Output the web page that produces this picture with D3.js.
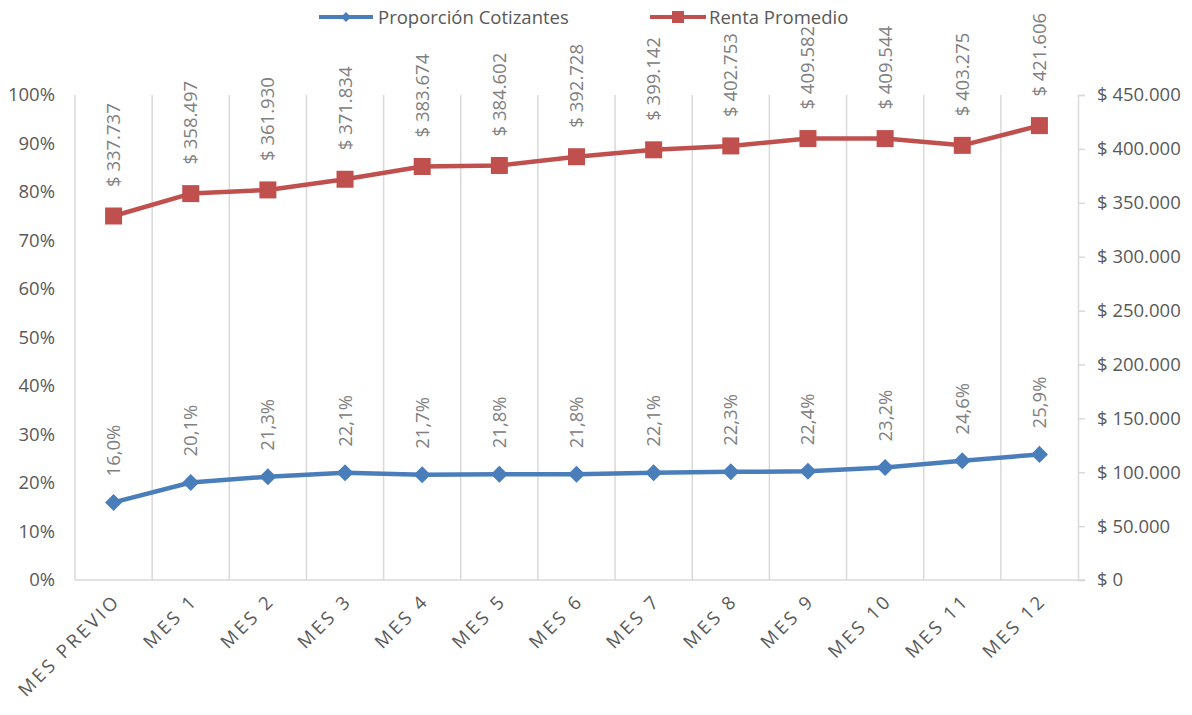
<!DOCTYPE html>
<meta charset="utf-8">
<title>Proporción Cotizantes y Renta Promedio</title>
<style>
    body {
        margin: 0;
        background: #fff;
        font-family: "Open Sans", Arial, sans-serif;
    }
</style>

<body>
    <script src="https://d3js.org/d3.v7.min.js"></script>
    <script>
        /* Data */
        var meses = ["MES PREVIO", "MES 1", "MES 2", "MES 3", "MES 4", "MES 5", "MES 6",
            "MES 7", "MES 8", "MES 9", "MES 10", "MES 11", "MES 12"];
        var proporcion = [0.160, 0.201, 0.213, 0.221, 0.217, 0.218, 0.218, 0.221, 0.223, 0.224, 0.232, 0.246, 0.259];
        var renta = [337737, 358497, 361930, 371834, 383674, 384602, 392728, 399142, 402753, 409582, 409544, 403275, 421606];
        var leftTicks = [0, 0.1, 0.2, 0.3, 0.4, 0.5, 0.6, 0.7, 0.8, 0.9, 1];
        var rightTicks = [0, 50000, 100000, 150000, 200000, 250000, 300000, 350000, 400000, 450000];

        /* Layout */
        var width = 1192,
            height = 715;
        var plotLeft = 75, plotRight = 1078, plotTop = 95, plotBottom = 580;
        var blue = "#4a7ebb", red = "#c0504d";
        var grid = "#d9d9d9", textColor = "#595959", labelColor = "#808080";

        var svg = d3.select("body").append("svg")
            .attr("width", width)
            .attr("height", height);

        var x = d3.scaleBand().domain(meses).range([plotLeft, plotRight]);
        var yL = d3.scaleLinear().domain([0, 1]).range([plotBottom, plotTop]);
        var yR = d3.scaleLinear().domain([0, 450000]).range([plotBottom, plotTop]);

        var pct = function (v) { return (v * 100).toFixed(1).replace(".", ",") + "%"; };
        var money = function (v) { return "$ " + d3.format(",")(v).replace(/,/g, "."); };

        // vertical gridlines at category boundaries
        var bounds = meses.map(function (m) { return x(m); });
        svg.append("g").selectAll("line")
            .data(bounds)
            .enter().append("line")
            .attr("x1", function (d) { return d; })
            .attr("x2", function (d) { return d; })
            .attr("y1", plotTop)
            .attr("y2", plotBottom)
            .attr("stroke", grid)
            .attr("stroke-width", 1.5);

        // bottom axis line
        svg.append("line")
            .attr("x1", plotLeft).attr("x2", plotRight + 7)
            .attr("y1", plotBottom).attr("y2", plotBottom)
            .attr("stroke", grid).attr("stroke-width", 1.5);

        // left axis (labels only)
        var leftAxis = d3.axisLeft(yL).tickValues(leftTicks).tickSize(0).tickPadding(20)
            .tickFormat(function (d) { return Math.round(d * 100) + "%"; });
        var gL = svg.append("g").attr("transform", "translate(" + plotLeft + ",0)").call(leftAxis);
        gL.select(".domain").remove();

        // right axis
        var rightAxis = d3.axisRight(yR).tickValues(rightTicks).tickSize(7).tickPadding(12)
            .tickFormat(function (d) { return d === 0 ? "$ 0" : money(d); });
        var gR = svg.append("g").attr("transform", "translate(" + plotRight + ",0)").call(rightAxis);
        gR.select(".domain").attr("stroke", grid).attr("stroke-width", 1.5);
        gR.selectAll(".tick line").attr("stroke", grid).attr("stroke-width", 1.5);

        svg.selectAll(".tick text")
            .attr("fill", textColor)
            .style("font-size", "18.5px")
            .style("font-family", "'Open Sans', Arial, sans-serif");

        // category labels
        svg.append("g").selectAll("text")
            .data(meses)
            .enter().append("text")
            .attr("transform", function (d) {
                return "translate(" + (x(d) + x.bandwidth() / 2 + 8) + "," + (plotBottom + 22) + ") rotate(-45)";
            })
            .attr("text-anchor", "end")
            .attr("fill", textColor)
            .style("font-size", "18.5px")
            .style("letter-spacing", "3px")
            .text(function (d) { return d; });

        var cx = function (i) { return x(meses[i]) + x.bandwidth() / 2; };

        // Proporción line
        svg.append("path")
            .datum(proporcion)
            .attr("fill", "none")
            .attr("stroke", blue)
            .attr("stroke-width", 4.5)
            .attr("stroke-linejoin", "round")
            .attr("d", d3.line().x(function (d, i) { return cx(i); }).y(function (d) { return yL(d); }));

        svg.append("g").selectAll("path")
            .data(proporcion)
            .enter().append("path")
            .attr("d", d3.symbol().type(d3.symbolSquare).size(145))
            .attr("transform", function (d, i) { return "translate(" + cx(i) + "," + yL(d) + ") rotate(45)"; })
            .attr("fill", blue);

        // Renta line
        svg.append("path")
            .datum(renta)
            .attr("fill", "none")
            .attr("stroke", red)
            .attr("stroke-width", 4.5)
            .attr("stroke-linejoin", "round")
            .attr("d", d3.line().x(function (d, i) { return cx(i); }).y(function (d) { return yR(d); }));

        svg.append("g").selectAll("rect")
            .data(renta)
            .enter().append("rect")
            .attr("x", function (d, i) { return cx(i) - 8.5; })
            .attr("y", function (d) { return yR(d) - 8.5; })
            .attr("width", 17)
            .attr("height", 17)
            .attr("fill", red);

        // data labels
        svg.append("g").selectAll("text")
            .data(proporcion)
            .enter().append("text")
            .attr("transform", function (d, i) {
                return "translate(" + (cx(i) + 6.5) + "," + (yL(d) - 26) + ") rotate(-90)";
            })
            .attr("fill", labelColor)
            .style("font-size", "18.5px")
            .text(pct);

        svg.append("g").selectAll("text")
            .data(renta)
            .enter().append("text")
            .attr("transform", function (d, i) {
                return "translate(" + (cx(i) + 6.5) + "," + (yR(d) - 29) + ") rotate(-90)";
            })
            .attr("fill", labelColor)
            .style("font-size", "18.5px")
            .text(money);

        // legend
        var legend = svg.append("g");
        legend.append("line").attr("x1", 319).attr("x2", 373).attr("y1", 17).attr("y2", 17)
            .attr("stroke", blue).attr("stroke-width", 4);
        legend.append("path")
            .attr("d", d3.symbol().type(d3.symbolSquare).size(50))
            .attr("transform", "translate(346,17) rotate(45)")
            .attr("fill", blue);
        legend.append("text").attr("x", 378).attr("y", 23.5)
            .attr("fill", textColor).style("font-size", "18.5px")
            .text("Proporción Cotizantes");

        legend.append("line").attr("x1", 650).attr("x2", 706).attr("y1", 17).attr("y2", 17)
            .attr("stroke", red).attr("stroke-width", 4);
        legend.append("rect").attr("x", 672).attr("y", 11).attr("width", 12).attr("height", 12)
            .attr("fill", red);
        legend.append("text").attr("x", 709).attr("y", 23.5)
            .attr("fill", textColor).style("font-size", "18.5px")
            .text("Renta Promedio");
    </script>
</body>
